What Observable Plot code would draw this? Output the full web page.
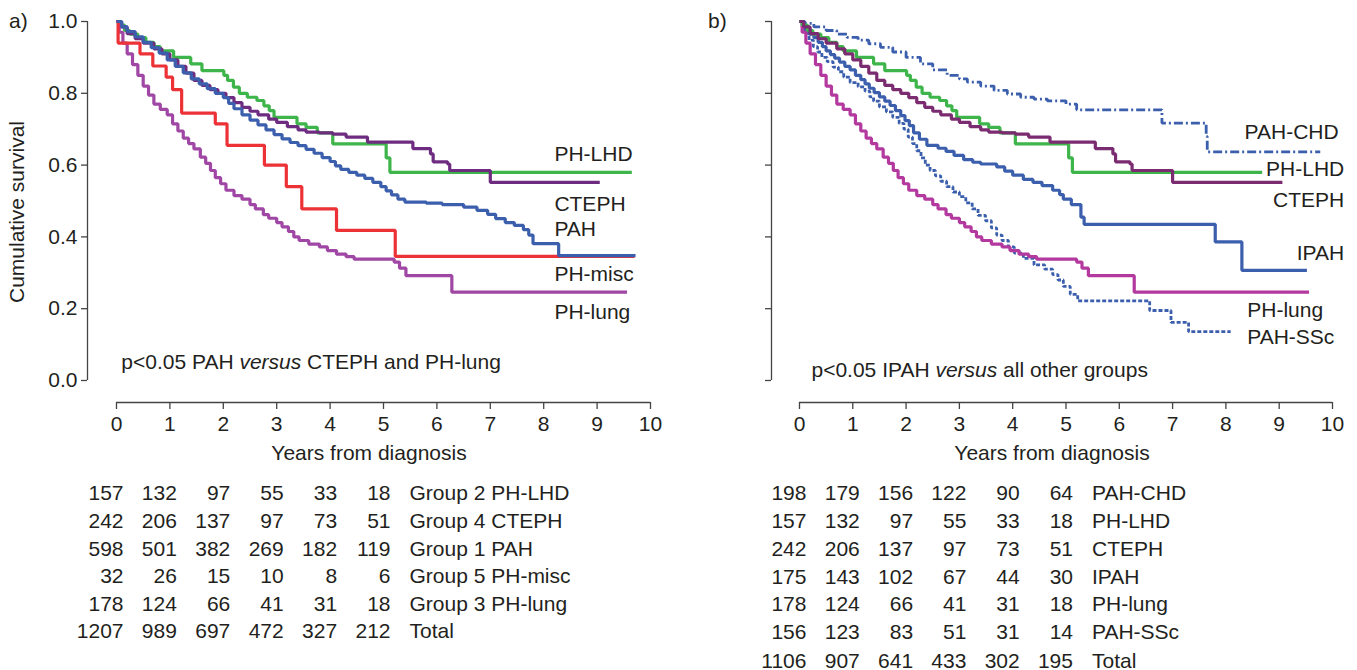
<!DOCTYPE html>
<html><head><meta charset="utf-8">
<script src="https://cdn.jsdelivr.net/npm/d3@7"></script>
<script src="https://cdn.jsdelivr.net/npm/@observablehq/plot@0.6"></script>
<style>
body{margin:0;background:#fff;}
#wrap{position:relative;width:1357px;height:670px;overflow:hidden;font-family:"Liberation Sans",Arial,Helvetica,sans-serif;color:#231f20;}
.panel{position:absolute;top:0;}
.tag{position:absolute;font-size:21px;line-height:24px;}
</style></head><body>
<div id="wrap">
 <div class="panel" id="pa" style="left:0"></div>
 <div class="panel" id="pb" style="left:680px"></div>
 <div class="tag" style="left:9px;top:9px">a)</div>
 <div class="tag" style="left:708px;top:9px">b)</div>
</div>
<script>
// ---------- data ----------
const years = [0,1,2,3,4,5,6,7,8,9,10];
const survTicks = [0,0.2,0.4,0.6,0.8,1.0];
const riskYears = [0,1,2,3,4,5];

// Kaplan-Meier steps [years, cumulative survival]
const phLhd = [[0,1],[0.05,0.99],[0.15,0.975],[0.25,0.965],[0.4,0.955],[0.55,0.942],[0.7,0.93],[0.82,0.918],[1.07,0.9],[1.39,0.882],[1.6,0.863],[2.01,0.85],[2.08,0.836],[2.19,0.817],[2.3,0.8],[2.45,0.789],[2.63,0.78],[2.76,0.765],[2.86,0.752],[2.95,0.733],[3.38,0.715],[3.55,0.705],[3.76,0.69],[4.05,0.659],[5.05,0.62],[5.12,0.58]];
const cteph = [[0,1],[0.08,0.985],[0.2,0.966],[0.35,0.952],[0.5,0.94],[0.7,0.924],[0.85,0.91],[1.0,0.893],[1.15,0.875],[1.3,0.856],[1.45,0.836],[1.6,0.822],[1.75,0.81],[1.9,0.8],[2.05,0.788],[2.2,0.774],[2.35,0.761],[2.5,0.75],[2.65,0.74],[2.85,0.728],[3.0,0.719],[3.2,0.707],[3.4,0.698],[3.55,0.692],[3.8,0.69],[4.05,0.686],[4.3,0.678],[4.7,0.664],[5.55,0.646],[5.88,0.631],[5.93,0.609],[6.2,0.603],[6.24,0.585],[7.0,0.552]];
const pah = [[0,1],[0.1,0.985],[0.2,0.972],[0.35,0.957],[0.5,0.942],[0.65,0.927],[0.8,0.912],[0.95,0.893],[1.1,0.875],[1.25,0.857],[1.4,0.84],[1.55,0.826],[1.7,0.813],[1.85,0.8],[2.0,0.788],[2.1,0.772],[2.2,0.757],[2.35,0.74],[2.5,0.725],[2.65,0.712],[2.8,0.698],[2.95,0.685],[3.1,0.673],[3.25,0.663],[3.4,0.654],[3.55,0.644],[3.7,0.633],[3.85,0.621],[4.0,0.61],[4.1,0.598],[4.2,0.588],[4.35,0.58],[4.5,0.572],[4.65,0.563],[4.8,0.552],[4.95,0.54],[5.05,0.528],[5.15,0.517],[5.27,0.505],[5.4,0.497],[5.8,0.494],[6.1,0.49],[6.5,0.483],[6.75,0.474],[6.95,0.463],[7.1,0.451],[7.28,0.44],[7.45,0.432],[7.62,0.42],[7.72,0.405],[7.8,0.381],[8.28,0.348]];
const phMisc = [[0,1],[0.03,0.94],[0.44,0.91],[0.68,0.876],[0.93,0.845],[1.05,0.81],[1.22,0.745],[1.85,0.715],[2.07,0.655],[2.77,0.6],[3.18,0.54],[3.47,0.478],[4.12,0.418],[5.22,0.346]];
const phLung = [[0,1],[0.05,0.97],[0.12,0.94],[0.2,0.91],[0.3,0.88],[0.4,0.85],[0.5,0.82],[0.6,0.795],[0.7,0.77],[0.82,0.755],[0.95,0.74],[1.05,0.715],[1.15,0.695],[1.25,0.675],[1.35,0.66],[1.45,0.645],[1.57,0.622],[1.67,0.605],[1.76,0.585],[1.85,0.565],[1.95,0.548],[2.05,0.53],[2.2,0.515],[2.35,0.505],[2.5,0.49],[2.6,0.478],[2.75,0.462],[2.85,0.452],[3.0,0.44],[3.1,0.428],[3.22,0.415],[3.32,0.4],[3.42,0.39],[3.6,0.38],[3.8,0.372],[3.95,0.362],[4.12,0.352],[4.3,0.345],[4.45,0.338],[5.2,0.33],[5.3,0.313],[5.42,0.292],[6.28,0.246]];
const pahChd = [[0,1],[0.1,0.995],[0.27,0.985],[0.5,0.975],[0.7,0.965],[0.89,0.956],[1.1,0.948],[1.3,0.938],[1.52,0.928],[1.75,0.915],[2.0,0.9],[2.27,0.882],[2.5,0.865],[2.77,0.85],[3.0,0.84],[3.15,0.831],[3.4,0.82],[3.65,0.808],[3.9,0.798],[4.15,0.789],[4.4,0.784],[4.65,0.779],[5.0,0.77],[5.2,0.754],[6.8,0.717],[7.63,0.68],[7.65,0.637]];
const ipah = [[0,1],[0.06,0.985],[0.12,0.975],[0.18,0.965],[0.27,0.955],[0.35,0.942],[0.43,0.93],[0.5,0.918],[0.58,0.908],[0.66,0.898],[0.75,0.887],[0.85,0.875],[0.95,0.865],[1.05,0.85],[1.15,0.838],[1.23,0.826],[1.31,0.814],[1.4,0.802],[1.5,0.79],[1.6,0.778],[1.7,0.766],[1.8,0.752],[1.9,0.738],[1.98,0.724],[2.06,0.71],[2.14,0.69],[2.25,0.672],[2.39,0.655],[2.6,0.647],[2.75,0.638],[2.9,0.627],[3.08,0.615],[3.25,0.608],[3.4,0.603],[3.7,0.595],[3.85,0.583],[4.0,0.572],[4.2,0.56],[4.38,0.552],[4.55,0.543],[4.75,0.53],[4.88,0.518],[4.95,0.505],[5.1,0.49],[5.28,0.455],[5.34,0.435],[7.8,0.386],[8.3,0.307]];
const pahSsc = [[0,1],[0.05,0.985],[0.1,0.967],[0.18,0.948],[0.26,0.93],[0.34,0.915],[0.42,0.9],[0.52,0.888],[0.63,0.873],[0.73,0.86],[0.83,0.845],[0.95,0.83],[1.1,0.818],[1.23,0.806],[1.32,0.79],[1.39,0.778],[1.5,0.762],[1.63,0.748],[1.75,0.733],[1.87,0.716],[1.96,0.7],[2.04,0.678],[2.12,0.66],[2.2,0.64],[2.28,0.62],[2.36,0.6],[2.45,0.585],[2.55,0.57],[2.65,0.555],[2.76,0.54],[2.88,0.525],[3.0,0.512],[3.12,0.495],[3.24,0.478],[3.35,0.46],[3.49,0.445],[3.6,0.425],[3.7,0.405],[3.8,0.39],[3.92,0.372],[4.03,0.355],[4.2,0.34],[4.4,0.322],[4.6,0.31],[4.75,0.295],[4.85,0.28],[4.95,0.262],[5.08,0.24],[5.22,0.222],[6.57,0.195],[6.97,0.162],[7.3,0.136]];

// panel a series (drawing order) and last follow-up time
const seriesA = [phLhd, cteph, phLung, phMisc, pah];
const endA = [9.65, 9.05, 9.56, 9.7, 9.72];
const colorA = ["#3db54a", "#6e2c80", "#a046a4", "#ec3237", "#3c5fad"];
const dashA = [null, null, null, null, null];

// panel b series
const seriesB = [pahSsc, ipah, pahChd, phLung, phLhd, cteph];
const endB = [8.09, 9.52, 9.77, 9.56, 8.68, 9.06];
const colorB = ["#3c5fad", "#3c5fad", "#3c5fad", "#b3399f", "#3db54a", "#7b2b70"];
const dashB = ["4,2", null, "9,3,2,3", null, null, null];

// curve labels
const labelNamesA = ["PH-LHD", "CTEPH", "PAH", "PH-misc", "PH-lung"];
const labelTA = [8.2, 8.2, 8.2, 8.2, 8.2];
const labelVA = [0.631, 0.492, 0.422, 0.297, 0.19];
const labelNamesB = ["PAH-CHD", "PH-LHD", "CTEPH", "IPAH", "PH-lung", "PAH-SSc"];
const labelTB = [8.35, 10.22, 10.22, 10.22, 8.4, 8.4];
const labelVB = [0.692, 0.589, 0.501, 0.355, 0.195, 0.121];
const labelEndB = [false, true, true, true, false, false];

const pTextA = "p<0.05 PAH versus CTEPH and PH-lung";
const pTextB = "p<0.05 IPAH versus all other groups";

// numbers at risk
const atRiskA = [[157,132,97,55,33,18],[242,206,137,97,73,51],[598,501,382,269,182,119],[32,26,15,10,8,6],[178,124,66,41,31,18],[1207,989,697,472,327,212]];
const rowLabelsA = ["Group 2 PH-LHD","Group 4 CTEPH","Group 1 PAH","Group 5 PH-misc","Group 3 PH-lung","Total"];
const atRiskB = [[198,179,156,122,90,64],[157,132,97,55,33,18],[242,206,137,97,73,51],[175,143,102,67,44,30],[178,124,66,41,31,18],[156,123,83,51,31,14],[1106,907,641,433,302,195]];
const rowLabelsB = ["PAH-CHD","PH-LHD","CTEPH","IPAH","PH-lung","PAH-SSc","Total"];

// ---------- layout ----------
const FONT = '"Liberation Sans", Arial, Helvetica, sans-serif';
const TXT = "#231f20";
const AX = "#444";
const rowDyA = [97,125,153,180,208,235];
const rowDyB = [97,125,153,181,208,236,265];

function buildSeries(steps, end) {
  const pts = steps.filter(d => d[0] <= end).map(d => ({t: d[0], s: d[1]}));
  pts.push({t: end, s: pts[pts.length - 1].s});
  return pts;
}

function makePanel(cfg) {
  const marks = [];
  marks.push(Plot.ruleX([cfg.xMin], {y1: 0, y2: 1, stroke: AX, strokeWidth: 1.3}));
  marks.push(Plot.ruleY([cfg.yMin], {x1: 0, x2: 10, stroke: AX, strokeWidth: 1.3}));
  marks.push(Plot.axisY({
    ticks: survTicks, tickSize: 6, tickPadding: 4, stroke: AX, strokeWidth: 1.3, fill: TXT,
    tickFormat: cfg.yLabels ? d3.format(".1f") : () => "",
    label: cfg.yLabels ? "Cumulative survival" : null,
    labelAnchor: "center", labelOffset: 78, labelArrow: "none", fontSize: 21
  }));
  marks.push(Plot.axisX({
    ticks: years, tickSize: 7, tickPadding: 7, stroke: AX, strokeWidth: 1.3, fill: TXT,
    tickFormat: d3.format("d"), label: "Years from diagnosis", labelAnchor: "center",
    labelOffset: 57, labelArrow: "none", fontSize: 21
  }));
  cfg.series.forEach((steps, i) => {
    marks.push(Plot.line(buildSeries(steps, cfg.ends[i]), {
      x: "t", y: "s", curve: "step-after", stroke: cfg.colors[i],
      strokeWidth: cfg.dashes[i] ? 2.8 : 3.2, strokeDasharray: cfg.dashes[i] || undefined,
      strokeLinejoin: "miter", strokeLinecap: "butt"
    }));
  });
  cfg.labels.forEach((name, i) => {
    marks.push(Plot.text([name], {
      x: () => cfg.labelT[i], y: () => cfg.labelV[i], text: d => d,
      textAnchor: cfg.labelEnd && cfg.labelEnd[i] ? "end" : "start",
      fontSize: 21, fill: TXT
    }));
  });
  marks.push(Plot.text([cfg.pText], {x: () => cfg.pT, y: () => cfg.pV, text: d => d, textAnchor: "start", fontSize: 21, fill: TXT}));
  cfg.atRisk.forEach((row, i) => {
    marks.push(Plot.text(row, {
      x: (d, j) => riskYears[j], text: d => String(d), frameAnchor: "bottom",
      dy: cfg.rowDy[i], dx: 7, textAnchor: "end", fontSize: 21, fill: TXT
    }));
    marks.push(Plot.text([cfg.rowLabels[i]], {
      x: () => 5, text: d => d, frameAnchor: "bottom",
      dy: cfg.rowDy[i], dx: 26, textAnchor: "start", fontSize: 21, fill: TXT
    }));
  });
  const svg = Plot.plot({
    width: cfg.width, height: 670,
    marginLeft: cfg.marginLeft, marginRight: cfg.marginRight, marginTop: 21, marginBottom: 268,
    x: {domain: [cfg.xMin, 10]},
    y: {domain: [cfg.yMin, 1]},
    style: {fontFamily: FONT, fontSize: "21px", color: TXT, background: "transparent", overflow: "visible"},
    marks
  });
  // italic "versus"
  svg.querySelectorAll("text").forEach(t => {
    if (t.childElementCount === 0 && t.textContent.includes(" versus ")) {
      const parts = t.textContent.split("versus");
      t.textContent = "";
      t.appendChild(document.createTextNode(parts[0]));
      const ts = document.createElementNS("http://www.w3.org/2000/svg", "tspan");
      ts.setAttribute("font-style", "italic");
      ts.textContent = "versus";
      t.appendChild(ts);
      t.appendChild(document.createTextNode(parts[1]));
    }
  });
  return svg;
}

document.getElementById("pa").appendChild(makePanel({
  width: 680, marginLeft: 87, marginRight: 30, xMin: -0.543, yMin: -0.0613, yLabels: true,
  series: seriesA, ends: endA, colors: colorA, dashes: dashA,
  labels: labelNamesA, labelT: labelTA, labelV: labelVA, labelEnd: null,
  pText: pTextA, pT: 0.09, pV: 0.05,
  atRisk: atRiskA, rowLabels: rowLabelsA, rowDy: rowDyA
}));
document.getElementById("pb").appendChild(makePanel({
  width: 677, marginLeft: 91, marginRight: 25, xMin: -0.525, yMin: -0.0613, yLabels: false,
  series: seriesB, ends: endB, colors: colorB, dashes: dashB,
  labels: labelNamesB, labelT: labelTB, labelV: labelVB, labelEnd: labelEndB,
  pText: pTextB, pT: 0.225, pV: 0.028,
  atRisk: atRiskB, rowLabels: rowLabelsB, rowDy: rowDyB
}));
</script>
</body></html>
